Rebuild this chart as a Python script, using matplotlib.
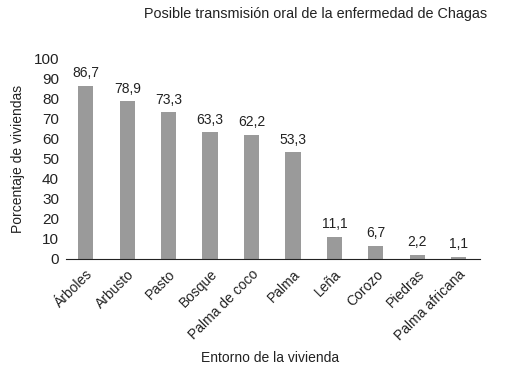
import matplotlib.pyplot as plt
import numpy as np

plt.rcParams['font.family'] = ['Liberation Sans', 'DejaVu Sans']

categorias = ['Árboles', 'Arbusto', 'Pasto', 'Bosque', 'Palma de coco', 'Palma',
              'Leña', 'Corozo', 'Piedras', 'Palma africana']
valores = [86.7, 78.9, 73.3, 63.3, 62.2, 53.3, 11.1, 6.7, 2.2, 1.1]
etiquetas = ['86,7', '78,9', '73,3', '63,3', '62,2', '53,3', '11,1', '6,7', '2,2', '1,1']

fig = plt.figure(figsize=(5.07, 3.78), dpi=100)
ax = fig.add_axes([0.130, 0.315, 0.817, 0.529])

x = np.arange(len(categorias))
ax.bar(x, valores, width=0.37, color='#9a9a9a')
for xi, v, t in zip(x, valores, etiquetas):
    ax.annotate(t, (xi, v), xytext=(0, 4), textcoords='offset points',
                ha='center', va='bottom', fontsize=10, color='#222222')

ax.set_xlim(-0.48, 9.52)
ax.set_ylim(0, 100)
ax.set_yticks(range(0, 101, 10))
ax.set_xticks(x)
ax.set_xticklabels(categorias, rotation=45, ha='right', rotation_mode='anchor', fontsize=10)
ax.tick_params(axis='both', length=0, colors='#222222')
ax.tick_params(axis='x', pad=6, labelsize=10)
ax.tick_params(axis='y', pad=5, labelsize=11)
for s in ['top', 'right', 'left']:
    ax.spines[s].set_visible(False)
ax.spines['bottom'].set_color('#222222')

ax.set_ylabel('Porcentaje de viviendas', fontsize=10, color='#222222', labelpad=6)
fig.text(0.532, 0.053, 'Entorno de la vivienda', ha='center', va='center',
         fontsize=10, color='#222222')
fig.text(0.622, 0.963, 'Posible transmisión oral de la enfermedad de Chagas',
         ha='center', va='center', fontsize=10.4, color='#222222')

fig.savefig('out.png', dpi=100)
